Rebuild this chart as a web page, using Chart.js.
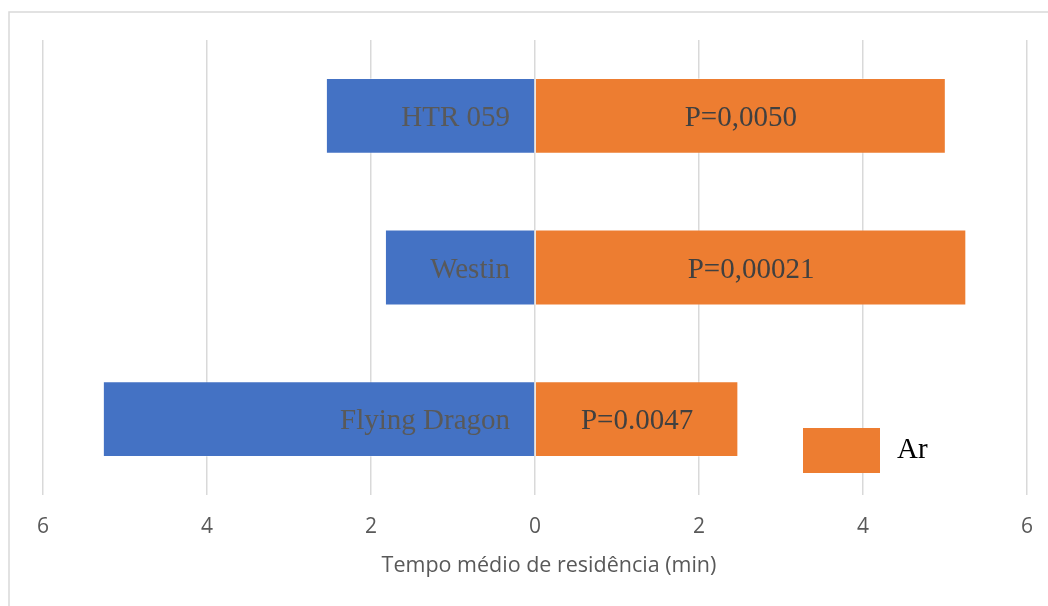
<!DOCTYPE html>
<html>
<head>
<meta charset="utf-8">
<script src="https://cdn.jsdelivr.net/npm/chart.js@4.4.1/dist/chart.umd.min.js"></script>
<style>
  html, body { margin: 0; padding: 0; background: #fff; overflow: hidden; }
  #wrap { width: 1048px; height: 606px; position: relative; }
</style>
</head>
<body>
<div id="wrap"><canvas id="c" width="1048" height="606"></canvas></div>
<script>
// Cultivars, top to bottom
const categories = ['HTR 059', 'Westin', 'Flying Dragon'];
// Mean residence time (min) on the left-hand side (drawn as negative values)
const leftSeries = [2.55, 1.83, 5.27];
// Mean residence time (min) in air
const airSeries = [5.01, 5.26, 2.48];
// Significance labels shown on the air bars
const pLabels = ['P=0,0050', 'P=0,00021', 'P=0.0047'];
// Axis tick values
const xTicks = [-6, -4, -2, 0, 2, 4, 6];
const xTitle = 'Tempo médio de residência (min)';

const BLUE = '#4472C4';
const ORANGE = '#ED7D31';

// Thin frame around the chart area
const framePlugin = {
  id: 'frame',
  beforeDraw(chart) {
    const ctx = chart.ctx;
    ctx.save();
    ctx.strokeStyle = '#d9d9d9';
    ctx.lineWidth = 1.5;
    ctx.strokeRect(9, 12, 2000, 2000);
    ctx.restore();
  }
};

// Text inside the bars: cultivar names on the left bars, P values on the air bars
const barTextPlugin = {
  id: 'barText',
  afterDatasetsDraw(chart) {
    const ctx = chart.ctx;
    const xScale = chart.scales.x;
    const zero = xScale.getPixelForValue(0);
    ctx.save();
    ctx.font = '29px "Liberation Serif", "Times New Roman", serif';
    const leftMeta = chart.getDatasetMeta(0);
    leftMeta.data.forEach((bar, i) => {
      ctx.fillStyle = '#595959';
      ctx.textAlign = 'right';
      ctx.textBaseline = 'alphabetic';
      ctx.fillText(categories[i], zero - 25, bar.y + 10);
    });
    const airMeta = chart.getDatasetMeta(1);
    airMeta.data.forEach((bar, i) => {
      ctx.fillStyle = '#404040';
      ctx.textAlign = 'center';
      ctx.textBaseline = 'alphabetic';
      ctx.fillText(pLabels[i], (bar.base + bar.x) / 2, bar.y + 10);
    });
    ctx.restore();
  }
};

// Axis title and the legend entry for the air series (placed inside the plot)
const extrasPlugin = {
  id: 'extras',
  afterDraw(chart) {
    const ctx = chart.ctx;
    const ds = chart.data.datasets[1];
    ctx.save();
    ctx.fillStyle = '#595959';
    ctx.font = '21.5px "Open Sans", sans-serif';
    ctx.textAlign = 'center';
    ctx.textBaseline = 'middle';
    ctx.fillText(xTitle, 549, 566);

    ctx.fillStyle = ds.backgroundColor;
    ctx.fillRect(803, 428, 77, 45);
    ctx.fillStyle = '#000';
    ctx.font = '29px "Liberation Serif", "Times New Roman", serif';
    ctx.textAlign = 'left';
    ctx.textBaseline = 'alphabetic';
    ctx.fillText(ds.label, 897, 458);
    ctx.restore();
  }
};

new Chart(document.getElementById('c'), {
  type: 'bar',
  data: {
    labels: categories,
    datasets: [
      {
        label: 'Controle',
        data: leftSeries.map(v => -v),
        backgroundColor: BLUE,
        borderColor: 'rgba(255,255,255,0.35)',
        borderWidth: 1,
        categoryPercentage: 1.0,
        barPercentage: 0.5
      },
      {
        label: 'Ar',
        data: airSeries,
        backgroundColor: ORANGE,
        borderColor: 'rgba(255,255,255,0.35)',
        borderWidth: 1,
        categoryPercentage: 1.0,
        barPercentage: 0.5
      }
    ]
  },
  options: {
    indexAxis: 'y',
    responsive: false,
    animation: false,
    layout: { padding: { left: 43, right: 21, top: 40, bottom: 0 } },
    plugins: {
      legend: { display: false },
      tooltip: { enabled: false }
    },
    scales: {
      y: {
        type: 'category',
        stacked: true,
        display: false
      },
      x: {
        type: 'linear',
        stacked: true,
        min: xTicks[0],
        max: xTicks[xTicks.length - 1],
        afterFit(scale) {
          scale.height = 111;
          scale.paddingLeft = 0;
          scale.paddingRight = 0;
        },
        afterBuildTicks(scale) { scale.ticks = xTicks.map(v => ({ value: v })); },
        border: { display: false },
        grid: {
          color: '#d9d9d9',
          lineWidth: 1.5,
          drawTicks: false
        },
        ticks: {
          padding: 19,
          color: '#595959',
          font: { family: '"Open Sans", sans-serif', size: 21 },
          callback: v => Math.abs(v).toString()
        },
        title: { display: false }
      }
    }
  },
  plugins: [framePlugin, barTextPlugin, extrasPlugin]
});
</script>
</body>
</html>
